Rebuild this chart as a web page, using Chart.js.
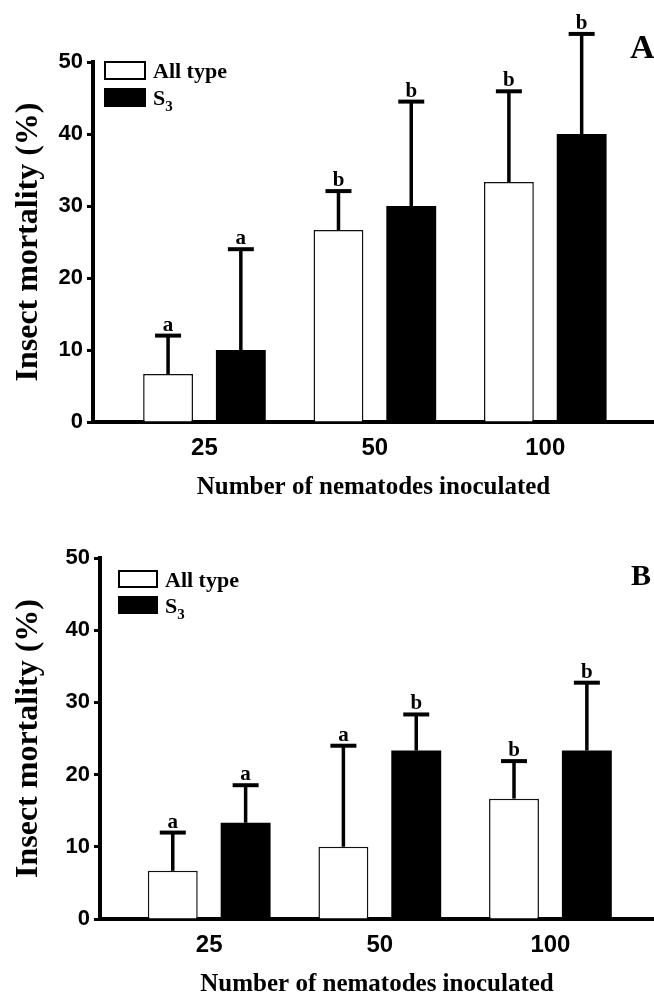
<!DOCTYPE html>
<html>
<head>
<meta charset="utf-8">
<script src="https://cdn.jsdelivr.net/npm/chart.js@4.4.1/dist/chart.umd.min.js"></script>
<style>
  body { margin: 0; background: #fff; }
  canvas { display: block; }
</style>
</head>
<body>
<canvas id="chartA" width="654" height="500"></canvas>
<canvas id="chartB" width="654" height="497"></canvas>
<script>
// x categories (number of nematodes)
var doses = ["25", "50", "100"];
var seriesNames = ["All type", "S\u2083"];
var yTicks = [0, 10, 20, 30, 40, 50];

// panel A : mean mortality (%), error (SD) and letters
var allTypeA = [6.67, 26.67, 33.33];
var allTypeErrA = [5.33, 5.4, 12.6];
var allTypeLetA = ["a", "b", "b"];
var s3A = [10, 30, 40];
var s3ErrA = [14, 14.5, 13.9];
var s3LetA = ["a", "b", "b"];

// panel B
var allTypeB = [6.67, 10, 16.67];
var allTypeErrB = [5.3, 14, 5.2];
var allTypeLetB = ["a", "a", "b"];
var s3B = [13.33, 23.33, 23.33];
var s3ErrB = [5.2, 5.0, 9.4];
var s3LetB = ["a", "b", "b"];

var sansBold = "'Liberation Sans', Arial, sans-serif";
var serifBold = "'Liberation Serif', 'Times New Roman', serif";

function toPoints(vals) {
  return vals.map(function (v, i) { return { x: i + 1, y: v }; });
}

// error bars (upper only) + significance letters
var errorBars = {
  id: "errorBars",
  afterDatasetsDraw: function (chart) {
    var ctx = chart.ctx;
    var yScale = chart.scales.y;
    chart.data.datasets.forEach(function (ds, i) {
      var meta = chart.getDatasetMeta(i);
      meta.data.forEach(function (bar, j) {
        var top = yScale.getPixelForValue(ds.data[j].y + ds.errors[j]);
        ctx.save();
        ctx.strokeStyle = "#000";
        ctx.lineWidth = 3.5;
        ctx.beginPath();
        ctx.moveTo(bar.x, bar.y);
        ctx.lineTo(bar.x, top);
        ctx.stroke();
        ctx.lineWidth = 4;
        ctx.beginPath();
        ctx.moveTo(bar.x - 13, top);
        ctx.lineTo(bar.x + 13, top);
        ctx.stroke();
        ctx.fillStyle = "#000";
        ctx.font = "bold 21px " + serifBold;
        ctx.textAlign = "center";
        ctx.textBaseline = "alphabetic";
        ctx.fillText(ds.letters[j], bar.x, top - 5);
        ctx.restore();
      });
    });
  }
};

// boxed legend in the top left corner + panel letter
var boxLegend = {
  id: "boxLegend",
  afterDraw: function (chart, args, opts) {
    var ctx = chart.ctx;
    ctx.save();
    chart.data.datasets.forEach(function (ds, i) {
      var bx = opts.x, by = opts.y + i * opts.step;
      ctx.fillStyle = ds.backgroundColor;
      ctx.fillRect(bx, by, opts.w, opts.h);
      ctx.strokeStyle = "#000";
      ctx.lineWidth = 2;
      ctx.strokeRect(bx + 1, by + 1, opts.w - 2, opts.h - 2);
      // label, subscript digits drawn small and lowered
      var tx = bx + opts.w + 7, ty = by + 17;
      ctx.fillStyle = "#000";
      ctx.textBaseline = "alphabetic";
      ctx.textAlign = "left";
      for (var k = 0; k < ds.label.length; k++) {
        var ch = ds.label[k];
        var code = ch.charCodeAt(0);
        if (code >= 0x2080 && code <= 0x2089) {
          ctx.font = "bold 15px " + serifBold;
          var d = String(code - 0x2080);
          ctx.fillText(d, tx, ty + 6);
          tx += ctx.measureText(d).width;
        } else {
          ctx.font = "bold 22px " + serifBold;
          ctx.fillText(ch, tx, ty);
          tx += ctx.measureText(ch).width;
        }
      }
    });
    ctx.font = "bold " + opts.panelSize + "px " + serifBold;
    ctx.fillText(opts.panel, opts.panelX, opts.panelY);
    ctx.restore();
  }
};

function makeChart(id, allVals, allErr, allLet, s3Vals, s3Err, s3Let, p) {
  return new Chart(document.getElementById(id), {
    type: "bar",
    data: {
      datasets: [
        {
          label: seriesNames[0],
          data: toPoints(allVals),
          errors: allErr,
          letters: allLet,
          backgroundColor: "#fff",
          borderColor: "#111",
          borderWidth: 1.5,
          categoryPercentage: 0.854,
          barPercentage: 0.685
        },
        {
          label: seriesNames[1],
          data: toPoints(s3Vals),
          errors: s3Err,
          letters: s3Let,
          backgroundColor: "#000",
          borderColor: "#000",
          borderWidth: 0,
          categoryPercentage: 0.854,
          barPercentage: 0.685
        }
      ]
    },
    options: {
      responsive: false,
      animation: false,
      layout: { padding: { top: p.top, left: 0, right: 0, bottom: 0 } },
      plugins: {
        legend: { display: false },
        tooltip: { enabled: false },
        boxLegend: p.legend
      },
      scales: {
        x: {
          type: "linear",
          offset: false,
          min: p.xMin,
          max: p.xMax,
          afterBuildTicks: function (scale) {
            scale.ticks = doses.map(function (d, i) { return { value: i + 1 }; });
          },
          afterFit: function (scale) { scale.height = 78; },
          grid: { display: false, drawTicks: false, offset: false },
          border: { display: true, color: "#000", width: 4 },
          ticks: {
            color: "#000",
            padding: 12,
            autoSkip: false,
            maxRotation: 0,
            font: { family: sansBold, size: 24, weight: "bold" },
            callback: function (v) { return doses[v - 1]; }
          },
          title: {
            display: true,
            text: "Number of nematodes inoculated",
            color: "#000",
            padding: 0,
            font: { family: serifBold, size: 25, weight: "bold", lineHeight: 1 }
          }
        },
        y: {
          min: 0,
          max: 50,
          afterBuildTicks: function (scale) {
            scale.ticks = yTicks.map(function (v) { return { value: v }; });
          },
          afterFit: function (scale) { scale.width = p.left; },
          grid: { drawOnChartArea: false, drawTicks: true, tickLength: 6, tickWidth: 3, tickColor: "#000" },
          border: { color: "#000", width: 4 },
          ticks: {
            color: "#000",
            padding: 4,
            font: { family: sansBold, size: 22, weight: "bold" }
          },
          title: {
            display: true,
            text: "Insect mortality (%)",
            color: "#000",
            padding: { top: 13, bottom: 0 },
            font: { family: serifBold, size: 32, weight: "bold", lineHeight: 1 }
          }
        }
      }
    },
    plugins: [errorBars, boxLegend]
  });
}

makeChart("chartA", allTypeA, allTypeErrA, allTypeLetA, s3A, s3ErrA, s3LetA, {
  top: 62, left: 93, xMin: 0.346, xMax: 3.638,
  legend: { x: 104, y: 61, w: 42, h: 19, step: 27, panel: "A", panelX: 630, panelY: 58, panelSize: 34 }
});

makeChart("chartB", allTypeB, allTypeErrB, allTypeLetB, s3B, s3ErrB, s3LetB, {
  top: 58, left: 100, xMin: 0.36, xMax: 3.607,
  legend: { x: 118, y: 70, w: 40, h: 18, step: 26, panel: "B", panelX: 631, panelY: 85, panelSize: 30 }
});
</script>
</body>
</html>
